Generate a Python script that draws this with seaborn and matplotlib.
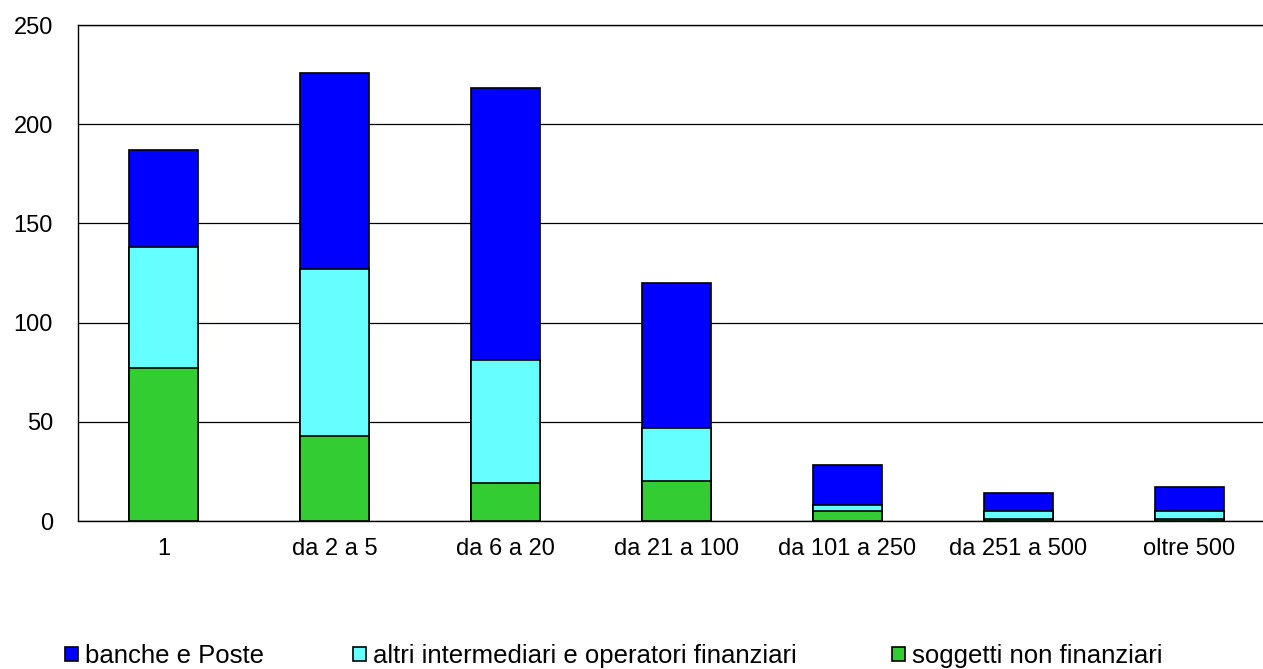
import matplotlib
matplotlib.use("Agg")
import matplotlib.pyplot as plt
import seaborn as sns
import pandas as pd
import numpy as np

categories = ["1", "da 2 a 5", "da 6 a 20", "da 21 a 100", "da 101 a 250", "da 251 a 500", "oltre 500"]
soggetti_non_finanziari = [77, 43, 19, 20, 5, 1, 1]
altri_intermediari = [61, 84, 62, 27, 3, 4, 4]
banche_e_poste = [49, 99, 137, 73, 20, 9, 12]
series_labels = ["banche e Poste", "altri intermediari e operatori finanziari", "soggetti non finanziari"]
y_ticks = [0, 50, 100, 150, 200, 250]

sns.set_style("white")
plt.rcParams["font.family"] = ["Liberation Sans", "DejaVu Sans"]
plt.rcParams["text.color"] = "black"

df = pd.DataFrame({
    "cat": categories,
    "green": soggetti_non_finanziari,
    "cyan": altri_intermediari,
    "blue": banche_e_poste,
})
df["lvl1"] = df["green"]
df["lvl2"] = df["green"] + df["cyan"]
df["lvl3"] = df["lvl2"] + df["blue"]

fig = plt.figure(figsize=(12.63, 6.69), dpi=100)
ax = fig.add_axes([78 / 1263, 1 - 521 / 669, 1197 / 1263, 496 / 669])

colors = ["#0000FF", "#66FFFF", "#33CC33"]
for col, c, lab in zip(["lvl3", "lvl2", "lvl1"], colors, series_labels):
    sns.barplot(data=df, x="cat", y=col, order=categories, color=c, saturation=1,
                width=0.4, edgecolor="black", linewidth=1.2, ax=ax, label=lab, zorder=3)

ax.set_xlim(-0.5, 6.5)
ax.set_ylim(0, 250)
ax.set_yticks(y_ticks)
ax.set_xlabel("")
ax.set_ylabel("")
ax.yaxis.grid(True, color="black", linewidth=0.9, zorder=0)
ax.set_axisbelow(True)
for s in ["left", "top", "bottom"]:
    ax.spines[s].set_visible(True)
    ax.spines[s].set_color("black")
    ax.spines[s].set_linewidth(1.0)
ax.spines["right"].set_visible(False)
ax.tick_params(axis="y", length=0, pad=18, labelsize=17, labelcolor="black")
ax.tick_params(axis="x", length=0, pad=12, labelsize=17, labelcolor="black")

handles, labels = ax.get_legend_handles_labels()
if ax.get_legend() is not None:
    ax.get_legend().remove()
xs = [65 / 1263, 353 / 1263, 892 / 1263]
for h, l, xpos in zip(handles, labels, xs):
    leg = fig.legend([h], [l], loc="center left", bbox_to_anchor=(xpos, 0.019),
                     frameon=False, fontsize=18.5, handlelength=0.5, handleheight=0.5,
                     handletextpad=0.28, borderpad=0, borderaxespad=0)
    for t in leg.get_texts():
        t.set_color("black")

fig.savefig("out.png", dpi=100)
